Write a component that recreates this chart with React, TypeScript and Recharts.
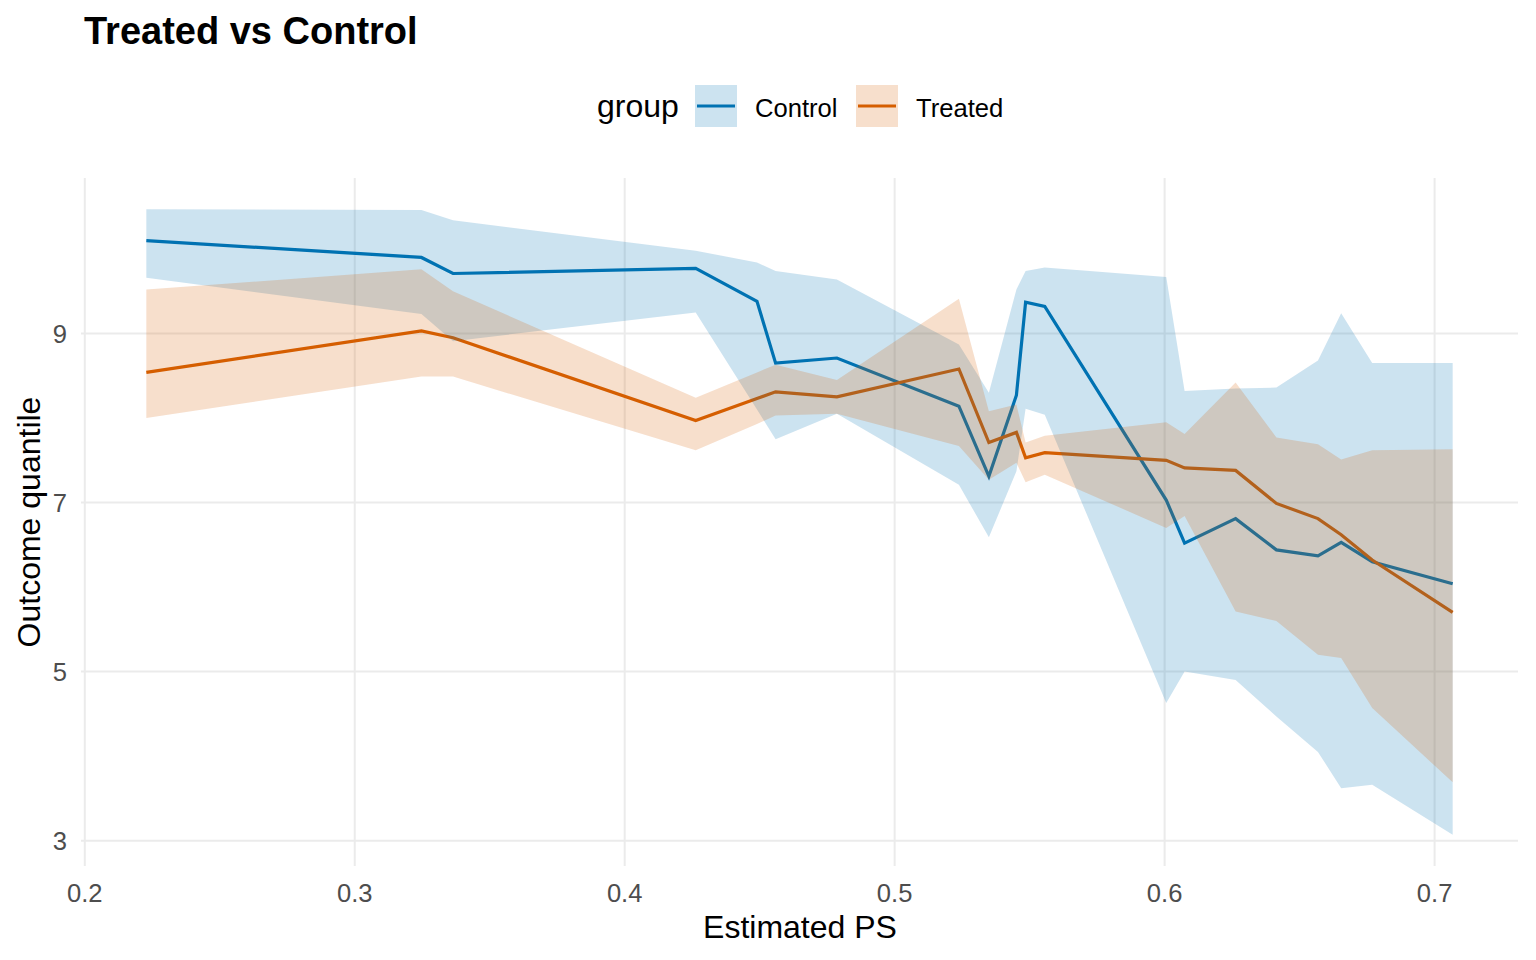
import React from 'react';
import { ComposedChart, Area, Line, XAxis, YAxis, CartesianGrid } from 'recharts';

// Estimated PS bins (shared by both groups)
const ps = [0.2228, 0.3247, 0.3364, 0.4263, 0.449, 0.4559, 0.4786, 0.5238, 0.5349, 0.5451,
  0.5485, 0.5556, 0.6006, 0.6074, 0.6263, 0.6414, 0.6568, 0.6654, 0.6769, 0.7067];

const controlMean = [10.10, 9.90, 9.71, 9.77, 9.38, 8.65, 8.71, 8.14, 7.31, 8.27,
  9.37, 9.32, 7.03, 6.52, 6.81, 6.44, 6.37, 6.53, 6.30, 6.04];
const controlLow = [9.66, 9.23, 8.91, 9.25, 8.10, 7.75, 8.05, 7.21, 6.59, 7.37,
  8.11, 8.04, 4.63, 5.00, 4.90, 4.47, 4.05, 3.62, 3.66, 3.07];
const controlHigh = [10.47, 10.46, 10.34, 9.98, 9.84, 9.74, 9.64, 8.87, 8.30, 9.52,
  9.74, 9.78, 9.67, 8.32, 8.35, 8.36, 8.68, 9.24, 8.65, 8.65];

const treatedMean = [8.54, 9.03, 8.95, 7.97, 8.23, 8.31, 8.25, 8.58, 7.71, 7.83,
  7.53, 7.59, 7.50, 7.41, 7.38, 6.99, 6.81, 6.62, 6.32, 5.70];
const treatedLow = [8.00, 8.49, 8.49, 7.62, 7.93, 8.03, 8.05, 7.67, 7.27, 7.47,
  7.24, 7.33, 6.70, 6.84, 5.71, 5.60, 5.20, 5.16, 4.57, 3.69];
const treatedHigh = [9.52, 9.76, 9.50, 8.24, 8.54, 8.63, 8.45, 9.41, 8.08, 8.16,
  7.71, 7.79, 7.95, 7.81, 8.42, 7.77, 7.69, 7.51, 7.62, 7.63];

const xTicks = [0.2, 0.3, 0.4, 0.5, 0.6, 0.7];
const yTicks = [3, 5, 7, 9];
const xDomain = [0.1986, 0.7309];
const yDomain = [2.7, 10.84];

const CONTROL = '#0072B2';
const TREATED = '#D55E00';
const FONT = '"Liberation Sans", Arial, sans-serif';

const data = ps.map((x, i) => ({
  ps: x,
  control: controlMean[i],
  treated: treatedMean[i],
  controlBand: [controlLow[i], controlHigh[i]],
  treatedBand: [treatedLow[i], treatedHigh[i]],
}));

const XTick = (props: any) => (
  <text x={props.x} y={902} textAnchor="middle" fontSize={25.6} fill="#4D4D4D" fontFamily={FONT}>
    {Number(props.payload.value).toFixed(1)}
  </text>
);

const YTick = (props: any) => (
  <text x={67} y={props.y + 9} textAnchor="end" fontSize={25.6} fill="#4D4D4D" fontFamily={FONT}>
    {props.payload.value}
  </text>
);

// grid only at the major ticks (no panel border)
const vGrid = ({ offset }: any) =>
  xTicks.map((t) => offset.left + ((t - xDomain[0]) / (xDomain[1] - xDomain[0])) * offset.width);
const hGrid = ({ offset }: any) =>
  yTicks.map((t) => offset.top + ((yDomain[1] - t) / (yDomain[1] - yDomain[0])) * offset.height);

export default function App() {
  return (
    <div style={{ position: 'relative', width: 1536, height: 960, background: '#fff' }}>
      <style>{'body{margin:0}'}</style>
      <ComposedChart
        width={1536}
        height={960}
        data={data}
        margin={{ top: 178, right: 18, bottom: 0, left: 0 }}
      >
        <CartesianGrid
          stroke="#EBEBEB"
          strokeWidth={2}
          verticalCoordinatesGenerator={vGrid}
          horizontalCoordinatesGenerator={hGrid}
        />
        <XAxis
          dataKey="ps"
          type="number"
          domain={xDomain}
          ticks={xTicks}
          allowDataOverflow
          axisLine={false}
          tickLine={false}
          height={94}
          tick={XTick}
        />
        <YAxis
          type="number"
          domain={yDomain}
          ticks={yTicks}
          allowDataOverflow
          axisLine={false}
          tickLine={false}
          width={81}
          tick={YTick}
        />
        <Line type="linear" dataKey="control" stroke={CONTROL} strokeWidth={3.2} dot={false} zIndex={50} isAnimationActive={false} />
        <Line type="linear" dataKey="treated" stroke={TREATED} strokeWidth={3.2} dot={false} zIndex={50} isAnimationActive={false} />
        <Area type="linear" dataKey="controlBand" stroke="none" fill={CONTROL} fillOpacity={0.2} zIndex={100} isAnimationActive={false} />
        <Area type="linear" dataKey="treatedBand" stroke="none" fill={TREATED} fillOpacity={0.2} zIndex={101} isAnimationActive={false} />
      </ComposedChart>

      {/* title, legend and axis titles */}
      <svg width={1536} height={960} style={{ position: 'absolute', left: 0, top: 0, pointerEvents: 'none' }} fontFamily={FONT}>
        <text x={84} y={44} fontSize={38} fontWeight="bold" fill="#000">Treated vs Control</text>

        <text x={597} y={117} fontSize={32} fill="#000">group</text>
        <rect x={695} y={85} width={42} height={42} fill={CONTROL} fillOpacity={0.2} />
        <line x1={697} x2={735} y1={106} y2={106} stroke={CONTROL} strokeWidth={3} />
        <text x={755} y={117} fontSize={25.6} fill="#000">Control</text>
        <rect x={856} y={85} width={42} height={42} fill={TREATED} fillOpacity={0.2} />
        <line x1={858} x2={896} y1={106} y2={106} stroke={TREATED} strokeWidth={3} />
        <text x={916} y={117} fontSize={25.6} fill="#000">Treated</text>

        <text x={800} y={938} fontSize={32} textAnchor="middle" fill="#000">Estimated PS</text>
        <text x={40} y={522} fontSize={32} textAnchor="middle" fill="#000" transform="rotate(-90 40 522)">Outcome quantile</text>
      </svg>
    </div>
  );
}
